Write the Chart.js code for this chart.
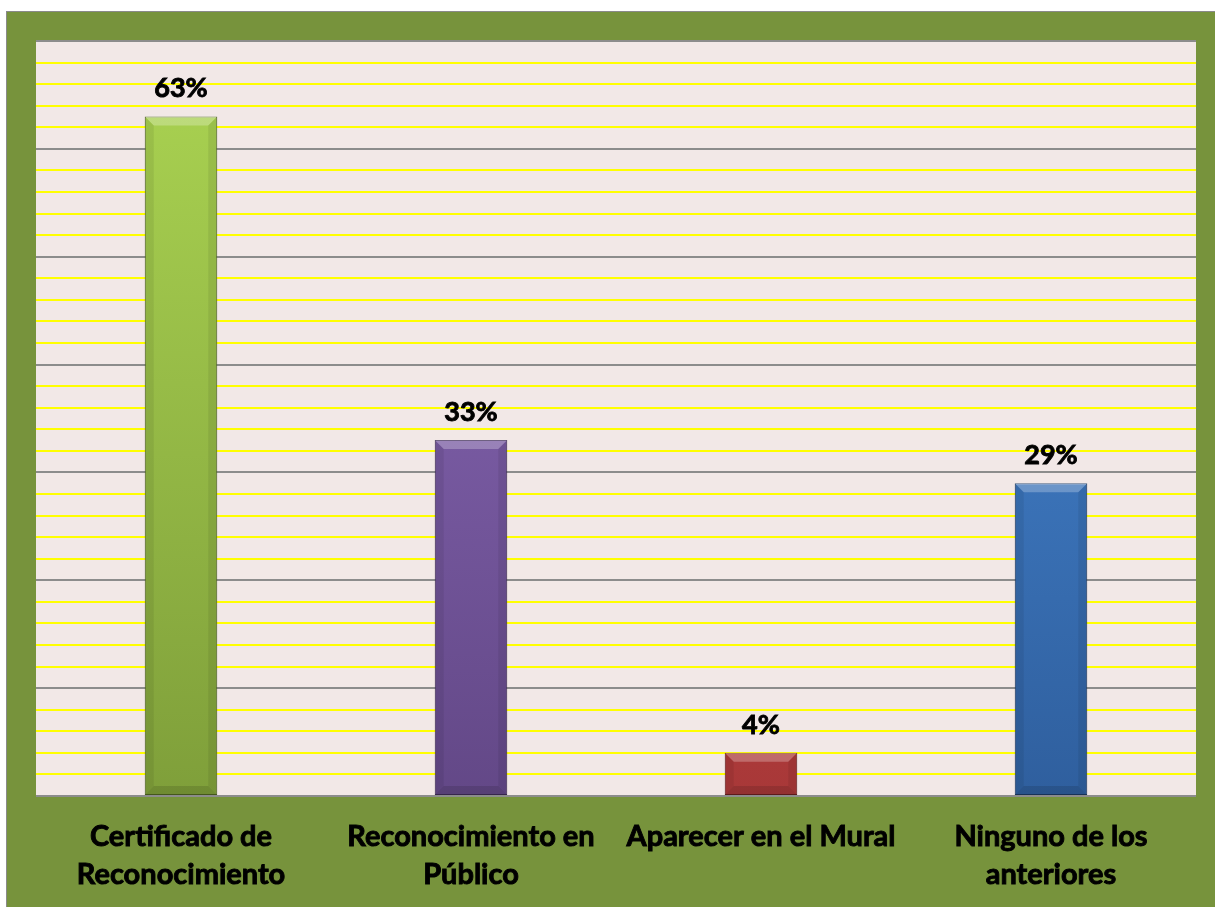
<!DOCTYPE html>
<html>
<head>
<meta charset="utf-8">
<script src="https://cdn.jsdelivr.net/npm/chart.js@4.4.1/dist/chart.umd.min.js"></script>
<style>
    html, body { margin: 0; padding: 0; background: #ffffff; }
    #wrap { width: 1215px; height: 907px; }
</style>
</head>
<body>
<div id="wrap"><canvas id="myChart" width="1215" height="907"></canvas></div>
<script>
// datos
const categorias = [
    ['Certificado de', 'Reconocimiento'],
    ['Reconocimiento en', 'Público'],
    'Aparecer en el Mural',
    ['Ninguno de los', 'anteriores']
];
const porcentajes = [63, 33, 4, 29];
const etiquetas = ['63%', '33%', '4%', '29%'];
const ejeMax = 70;
const ejePaso = 2;

// colores de cada barra: arriba, abajo, borde
const coloresBarra = [
    ['#abd452', '#7f9f3a', '#4e6420'],
    ['#8d6cbc', '#634887', '#3e2b57'],
    ['#d44f4c', '#a83838', '#6a1e1e'],
    ['#4a8ddb', '#2f5f9e', '#1c3a63']
];

function gradiente(context) {
    const chart = context.chart;
    const area = chart.chartArea;
    if (!area) return coloresBarra[context.dataIndex][0];
    const el = context.element;
    const c = coloresBarra[context.dataIndex];
    const top = el && el.y ? el.y : area.top;
    const g = chart.ctx.createLinearGradient(0, top, 0, area.bottom);
    g.addColorStop(0, c[0]);
    g.addColorStop(1, c[1]);
    return g;
}

const fondoPlugin = {
    id: 'fondo',
    beforeDraw(chart) {
        const ctx = chart.ctx;
        const a = chart.chartArea;
        ctx.save();
        ctx.fillStyle = '#ffffff';
        ctx.fillRect(0, 0, chart.width, chart.height);
        ctx.fillStyle = '#8a8a8a';
        ctx.fillRect(6, 11, chart.width - 6, chart.height - 11);
        ctx.fillStyle = '#77933c';
        ctx.fillRect(7, 12, chart.width - 7, chart.height - 12);
        ctx.fillStyle = '#f2e8e7';
        ctx.fillRect(a.left, a.top, a.right - a.left, a.bottom - a.top);
        ctx.restore();
    }
};

// bisel y porcentajes encima de las barras
const biselPlugin = {
    id: 'bisel',
    afterDatasetsDraw(chart) {
        const ctx = chart.ctx;
        const meta = chart.getDatasetMeta(0);
        ctx.save();
        meta.data.forEach(function (bar, i) {
            const x0 = bar.x - bar.width / 2;
            const x1 = bar.x + bar.width / 2;
            const y0 = bar.y;
            const y1 = bar.base;
            const b = Math.min(9, (y1 - y0) / 3);
            ctx.fillStyle = 'rgba(255,255,255,0.25)';
            ctx.beginPath();
            ctx.moveTo(x0, y0); ctx.lineTo(x1, y0); ctx.lineTo(x1 - b, y0 + b); ctx.lineTo(x0 + b, y0 + b);
            ctx.closePath(); ctx.fill();
            ctx.fillStyle = 'rgba(0,0,0,0.07)';
            ctx.beginPath();
            ctx.moveTo(x0, y0); ctx.lineTo(x0 + b, y0 + b); ctx.lineTo(x0 + b, y1 - b); ctx.lineTo(x0, y1);
            ctx.closePath(); ctx.fill();
            ctx.beginPath();
            ctx.moveTo(x1, y0); ctx.lineTo(x1 - b, y0 + b); ctx.lineTo(x1 - b, y1 - b); ctx.lineTo(x1, y1);
            ctx.closePath(); ctx.fill();
            ctx.fillStyle = 'rgba(0,0,0,0.12)';
            ctx.beginPath();
            ctx.moveTo(x0, y1); ctx.lineTo(x0 + b, y1 - b); ctx.lineTo(x1 - b, y1 - b); ctx.lineTo(x1, y1);
            ctx.closePath(); ctx.fill();

            ctx.fillStyle = '#000000';
            ctx.strokeStyle = '#000000';
            ctx.lineWidth = 0.9;
            ctx.font = 'bold 27px Lato';
            ctx.textAlign = 'center';
            ctx.textBaseline = 'middle';
            ctx.fillText(etiquetas[i], bar.x, y0 - 28);
            ctx.strokeText(etiquetas[i], bar.x, y0 - 28);
        });
        ctx.restore();
    }
};

const ctx = document.getElementById('myChart').getContext('2d');
const myChart = new Chart(ctx, {
    type: 'bar',
    data: {
        labels: categorias,
        datasets: [
            {
                label: 'Porcentaje',
                data: porcentajes,
                backgroundColor: gradiente,
                borderColor: coloresBarra.map(function (c) { return c[2]; }),
                borderWidth: 1,
                borderSkipped: false,
                categoryPercentage: 1,
                barPercentage: 0.25
            }
        ]
    },
    options: {
        responsive: false,
        animation: false,
        layout: {
            padding: { left: 36, right: 19, top: 41, bottom: 0 }
        },
        plugins: {
            legend: { display: false },
            tooltip: { enabled: false }
        },
        scales: {
            x: {
                grid: { display: false, drawTicks: false },
                border: { display: false },
                afterFit: function (scale) { scale.height = 111; },
                ticks: {
                    color: '#000000',
                    padding: 22,
                    textStrokeColor: '#000000',
                    textStrokeWidth: 0.9,
                    font: { family: 'Lato', size: 29, weight: 'bold', lineHeight: 1.31 }
                }
            },
            y: {
                min: 0,
                max: ejeMax,
                border: { display: false },
                grid: {
                    drawTicks: false,
                    lineWidth: 2,
                    color: function (c) {
                        return c.tick && c.tick.value % 10 === 0 ? '#8c8c8c' : '#ffff00';
                    }
                },
                ticks: { display: false, stepSize: ejePaso }
            }
        }
    },
    plugins: [fondoPlugin, biselPlugin]
});
</script>
</body>
</html>
